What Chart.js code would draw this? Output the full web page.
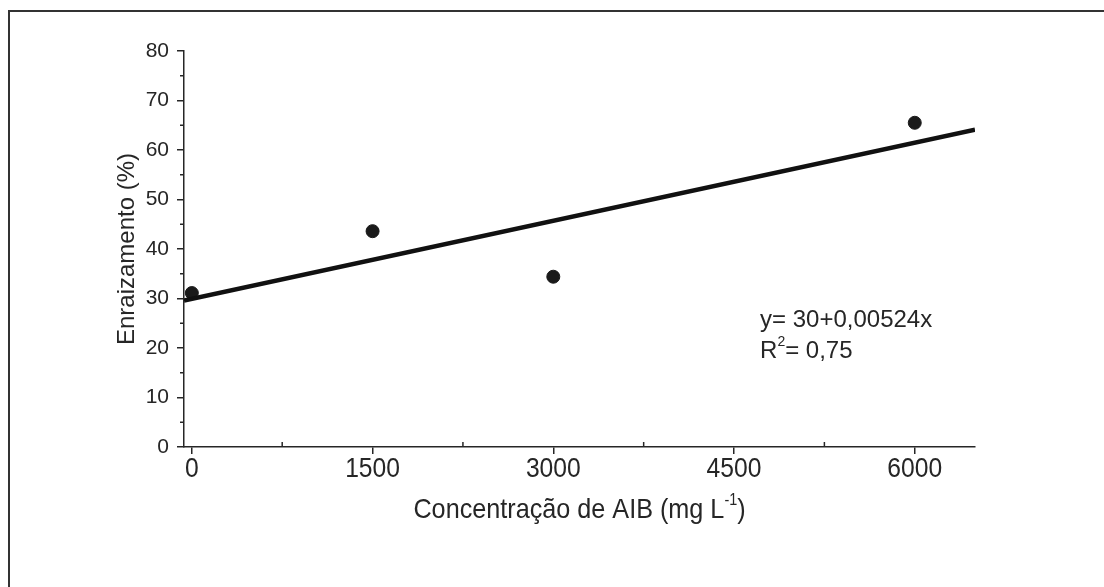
<!DOCTYPE html>
<html>
<head>
<meta charset="utf-8">
<script src="https://cdn.jsdelivr.net/npm/chart.js@4.4.1/dist/chart.umd.min.js"></script>
<style>
  html, body { margin: 0; padding: 0; background: #fff; }
  #wrap { position: relative; width: 1104px; height: 587px; overflow: hidden; }
  #frame { position: absolute; left: 8px; top: 10px; width: 1200px; height: 700px;
           border-top: 2px solid #333; border-left: 2px solid #333; }
  canvas { position: absolute; left: 0; top: 0; }
</style>
</head>
<body>
<div id="wrap">
  <div id="frame"></div>
  <canvas id="chart" width="1104" height="587"></canvas>
</div>
<script>
// dados
const concentracoes = [0, 1500, 3000, 6000];
const enraizamento = [31.1, 43.6, 34.4, 65.5];
const retaX = [-65, 6500];
const retaY = [29.6, 64.1];
const xTicks = [0, 1500, 3000, 4500, 6000];
const xMinor = [750, 2250, 3750, 5250];
const yMinor = [5, 15, 25, 35, 45, 55, 65, 75];
const equacao = 'y= 30+0,00524x';
const r2 = '0,75';

const INK = '#262626';
const FONT = '"Liberation Sans", Arial, sans-serif';

// texto comprimido na horizontal (a fonte original e estreita)
function narrowText(ctx, text, x, y, sx) {
    ctx.save();
    ctx.translate(x, y);
    ctx.scale(sx, 1);
    ctx.fillText(text, 0, 0);
    ctx.restore();
}

// marcas menores e textos extras (rotulos x, titulos, equacao)
const extras = {
    id: 'extras',
    afterDraw(chart) {
        const { ctx, scales: { x, y }, chartArea } = chart;
        ctx.save();
        ctx.strokeStyle = INK;
        ctx.lineWidth = 1.5;
        xMinor.forEach(v => {
            const px = x.getPixelForValue(v);
            ctx.beginPath();
            ctx.moveTo(px, chartArea.bottom);
            ctx.lineTo(px, chartArea.bottom - 5);
            ctx.stroke();
        });
        yMinor.forEach(v => {
            const py = y.getPixelForValue(v);
            ctx.beginPath();
            ctx.moveTo(chartArea.left, py);
            ctx.lineTo(chartArea.left - 4, py);
            ctx.stroke();
        });

        ctx.fillStyle = INK;

        // rotulos do eixo x
        ctx.font = '28px ' + FONT;
        ctx.textAlign = 'center';
        ctx.textBaseline = 'alphabetic';
        xTicks.forEach(v => {
            narrowText(ctx, String(v), x.getPixelForValue(v), chartArea.bottom + 30, 0.88);
        });

        // titulo eixo y
        ctx.save();
        ctx.translate(134, (chartArea.top + chartArea.bottom) / 2);
        ctx.rotate(-Math.PI / 2);
        ctx.font = '24px ' + FONT;
        ctx.fillText('Enraizamento (%)', 0, 0);
        ctx.restore();

        // titulo eixo x, com sobrescrito
        const sx = 0.9;
        const main = 'Concentração de AIB (mg L';
        ctx.textAlign = 'left';
        ctx.font = '28px ' + FONT;
        const w1 = ctx.measureText(main).width * sx;
        const w3 = ctx.measureText(')').width * sx;
        ctx.font = '16px ' + FONT;
        const w2 = ctx.measureText('-1').width * sx;
        const cx = (chartArea.left + chartArea.right) / 2;
        let tx = cx - (w1 + w2 + w3) / 2;
        const ty = 518;
        ctx.font = '28px ' + FONT;
        narrowText(ctx, main, tx, ty, sx);
        tx += w1;
        ctx.font = '16px ' + FONT;
        narrowText(ctx, '-1', tx, ty - 13, sx);
        tx += w2;
        ctx.font = '28px ' + FONT;
        narrowText(ctx, ')', tx, ty, sx);

        // equacao
        const ex = x.getPixelForValue(4716);
        ctx.font = '24px ' + FONT;
        ctx.fillText(equacao, ex, y.getPixelForValue(24.2));
        const ry = y.getPixelForValue(17.9);
        ctx.fillText('R', ex, ry);
        let rx = ex + ctx.measureText('R').width;
        ctx.font = '14px ' + FONT;
        ctx.fillText('2', rx, ry - 12);
        rx += ctx.measureText('2').width;
        ctx.font = '24px ' + FONT;
        ctx.fillText('= ' + r2, rx, ry);
        ctx.restore();
    }
};

new Chart(document.getElementById('chart'), {
    type: 'scatter',
    data: {
        datasets: [
            {
                type: 'line',
                data: retaX.map((v, i) => ({ x: v, y: retaY[i] })),
                borderColor: '#111',
                borderWidth: 4.5,
                pointRadius: 0,
                fill: false
            },
            {
                data: concentracoes.map((v, i) => ({ x: v, y: enraizamento[i] })),
                backgroundColor: '#1a1a1a',
                borderColor: '#1a1a1a',
                pointRadius: 6.5
            }
        ]
    },
    options: {
        responsive: false,
        animation: false,
        layout: { padding: { top: 51, right: 129, bottom: 0, left: 0 } },
        plugins: { legend: { display: false }, tooltip: { enabled: false } },
        scales: {
            x: {
                type: 'linear',
                min: -65,
                max: 6500,
                afterBuildTicks: s => { s.ticks = xTicks.map(v => ({ value: v })); },
                afterFit: s => { s.height = 140; },
                grid: { drawOnChartArea: false, drawTicks: true, tickLength: 7, color: INK, lineWidth: 1.5 },
                border: { display: true, color: INK, width: 1.5 },
                ticks: { display: false }
            },
            y: {
                min: 0,
                max: 80,
                afterFit: s => { s.width = 184; },
                grid: { drawOnChartArea: false, drawTicks: true, tickLength: 7, color: INK, lineWidth: 1.5 },
                border: { display: true, color: INK, width: 1.5 },
                ticks: {
                    stepSize: 10,
                    padding: 8,
                    color: INK,
                    font: { family: FONT, size: 21 }
                }
            }
        }
    },
    plugins: [extras]
});
</script>
</body>
</html>
